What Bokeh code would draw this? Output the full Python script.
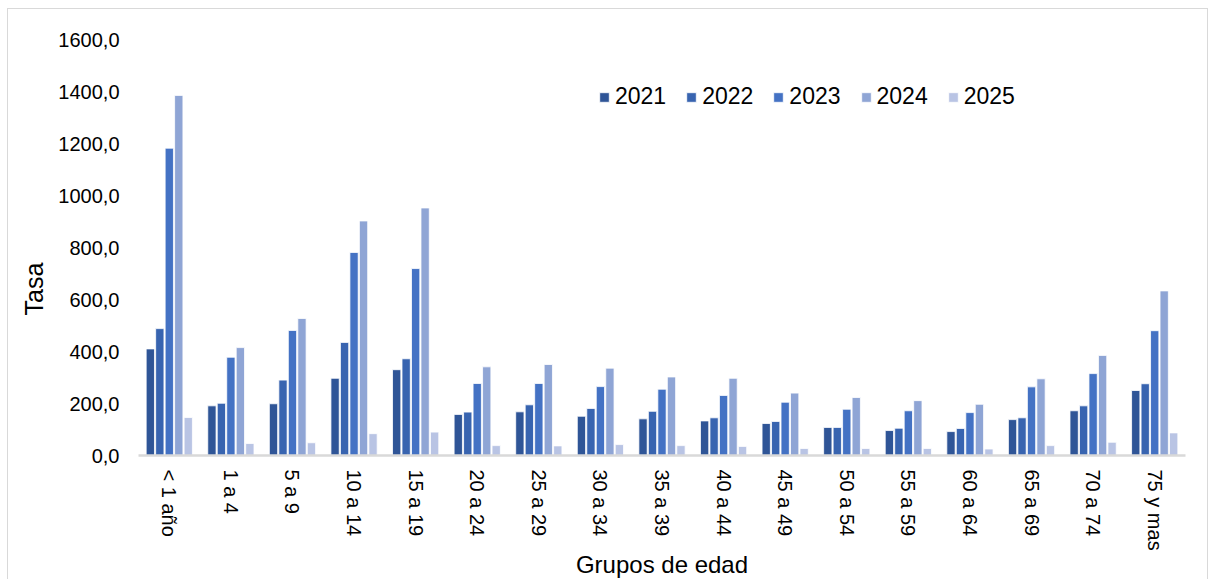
from bokeh.plotting import figure
from bokeh.models import ColumnDataSource, Legend, LegendItem, CustomJSTickFormatter, FixedTicker, Title
from bokeh.transform import dodge
from bokeh.embed import file_html
from bokeh.resources import INLINE
import math

groups = ["< 1 año", "1 a 4", "5 a 9", "10 a 14", "15 a 19", "20 a 24", "25 a 29",
          "30 a 34", "35 a 39", "40 a 44", "45 a 49", "50 a 54", "55 a 59",
          "60 a 64", "65 a 69", "70 a 74", "75  y mas"]
y2021 = [410, 191, 199, 297, 330, 158, 168, 151, 141, 133, 123, 108, 96, 92, 138, 172, 250]
y2022 = [488, 201, 290, 435, 372, 167, 195, 181, 170, 145, 131, 108, 105, 104, 145, 191, 276]
y2023 = [1182, 378, 481, 781, 719, 277, 277, 265, 255, 231, 205, 178, 172, 165, 264, 315, 480]
y2024 = [1385, 415, 527, 902, 952, 341, 350, 336, 302, 297, 240, 223, 211, 197, 295, 385, 633]
y2025 = [146, 46, 49, 84, 90, 38, 37, 42, 38, 35, 27, 27, 27, 25, 38, 51, 87]
years = ["2021", "2022", "2023", "2024", "2025"]
colors = ["#2F5597", "#3864B0", "#4472C4", "#8FA5D5", "#B9C4E4"]

source = ColumnDataSource(dict(groups=groups, y2021=y2021, y2022=y2022,
                               y2023=y2023, y2024=y2024, y2025=y2025))

FONT = "Liberation Sans"

p = figure(x_range=groups, y_range=(0, 1600),
           frame_width=1047, frame_height=416,
           output_backend="svg", toolbar_location=None,
           min_border_left=130, min_border_right=22, min_border_top=30, min_border_bottom=40)
p.styles = {"margin-left": "7px", "margin-top": "8px", "border": "1px solid #D9D9D9"}
p.outline_line_color = None
p.background_fill_color = "white"
p.border_fill_color = "white"
p.xgrid.visible = False
p.ygrid.visible = False

offsets = [-0.308, -0.154, 0.0, 0.154, 0.308]
renderers = []
for yr, off, col in zip(years, offsets, colors):
    r = p.vbar(x=dodge("groups", off, range=p.x_range), top="y" + yr, width=0.135,
               source=source, fill_color=col, line_color="white", line_width=0.8)
    renderers.append(r)

legend = Legend(items=[LegendItem(label=yr, renderers=[r]) for yr, r in zip(years, renderers)],
                orientation="horizontal", location=(460, 345),
                label_text_font=FONT, label_text_font_size="23px", label_text_color="#000000",
                glyph_width=12, glyph_height=12, label_standoff=5, spacing=19,
                padding=0, margin=0, border_line_color=None, background_fill_alpha=0)
p.add_layout(legend, "center")

p.yaxis.ticker = FixedTicker(ticks=[0, 200, 400, 600, 800, 1000, 1200, 1400, 1600])
p.yaxis.formatter = CustomJSTickFormatter(code="return tick.toFixed(1).replace('.', ',');")
p.yaxis.axis_line_color = None
p.yaxis.major_tick_line_color = None
p.yaxis.minor_tick_line_color = None
p.yaxis.major_label_text_font = FONT
p.yaxis.major_label_text_font_size = "20px"
p.yaxis.major_label_text_color = "#000000"
p.yaxis.major_label_standoff = 13

ytitle = Title(text="Tasa", align="left", offset=140, standoff=16, text_font=FONT,
               text_font_size="25px", text_font_style="normal", text_color="#000000")
p.add_layout(ytitle, "left")

p.xaxis.axis_line_color = "#D9D9D9"
p.xaxis.axis_line_width = 2.5
p.xaxis.major_tick_line_color = None
p.xaxis.minor_tick_line_color = None
p.xaxis.major_label_orientation = -math.pi / 2
p.xaxis.major_label_text_font = FONT
p.xaxis.major_label_text_font_size = "20px"
p.xaxis.major_label_text_color = "#000000"
p.xaxis.major_label_standoff = 8
p.xaxis.axis_label = "Grupos de edad"
p.xaxis.axis_label_text_font = FONT
p.xaxis.axis_label_text_font_size = "24px"
p.xaxis.axis_label_text_font_style = "normal"
p.xaxis.axis_label_text_color = "#000000"
p.xaxis.axis_label_standoff = -8

open("out.html", "w").write(file_html(p, INLINE))
